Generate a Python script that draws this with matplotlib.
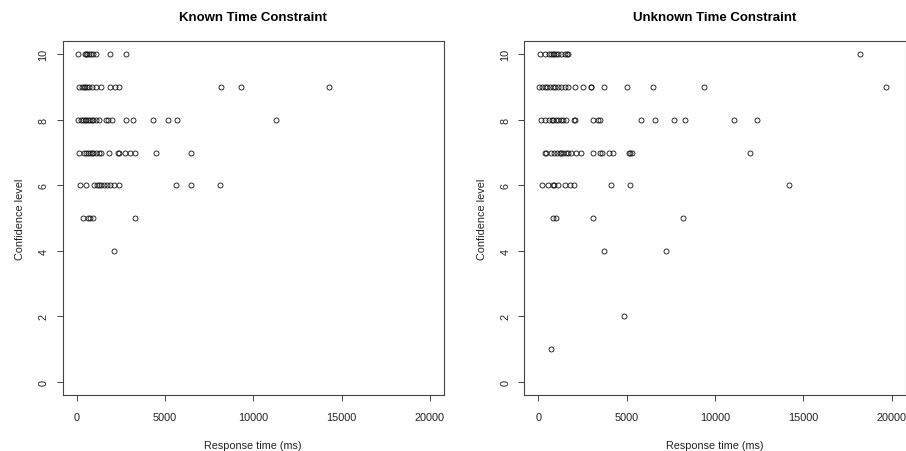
import numpy as np
import matplotlib.pyplot as plt

plt.rcParams['font.family'] = ['Liberation Sans', 'DejaVu Sans']

# Known time constraint: response times (ms) grouped by confidence level
known_conf10 = [100, 450, 550, 600, 700, 800, 900, 1100, 1900, 2800]
known_conf9 = [150, 300, 400, 500, 600, 700, 850, 1100, 1400, 1900, 2200, 2400, 8200, 9300, 14300]
known_conf8 = [100, 250, 350, 450, 550, 650, 750, 850, 950, 1100, 1250, 1650, 1800, 2000,
               2800, 3200, 4300, 5200, 5700, 11300]
known_conf7 = [150, 400, 550, 650, 750, 850, 950, 1100, 1250, 1400, 1850, 2350, 2400, 2750,
               3000, 3300, 4500, 6500]
known_conf6 = [200, 550, 1000, 1150, 1250, 1400, 1550, 1700, 1900, 2100, 2400, 5600, 6500, 8100]
known_conf5 = [350, 650, 750, 900, 3300]
known_conf4 = [2100]

# Unknown time constraint
unknown_conf10 = [100, 350, 600, 700, 800, 900, 1000, 1100, 1300, 1500, 1600, 1700, 18200]
unknown_conf9 = [50, 200, 350, 500, 650, 800, 950, 1100, 1300, 1500, 1700, 2050, 2500, 2950,
                 3000, 3700, 5000, 6500, 9400, 19700]
unknown_conf8 = [150, 400, 600, 750, 850, 1000, 1100, 1250, 1400, 1550, 2000, 2050, 3100, 3400,
                 3500, 5800, 6600, 7700, 8300, 11100, 12400]
unknown_conf7 = [350, 450, 700, 900, 1050, 1200, 1300, 1400, 1550, 1700, 1850, 2100, 2400, 3100,
                 3500, 3600, 4000, 4200, 5100, 5200, 5300, 12000]
unknown_conf6 = [200, 550, 800, 900, 1100, 1500, 1800, 2000, 4100, 5200, 14200]
unknown_conf5 = [800, 1000, 3100, 8200]
unknown_conf4 = [3700, 7200]
unknown_conf2 = [4850]
unknown_conf1 = [700]

known = {10: known_conf10, 9: known_conf9, 8: known_conf8, 7: known_conf7,
         6: known_conf6, 5: known_conf5, 4: known_conf4}
unknown = {10: unknown_conf10, 9: unknown_conf9, 8: unknown_conf8, 7: unknown_conf7,
           6: unknown_conf6, 5: unknown_conf5, 4: unknown_conf4, 2: unknown_conf2,
           1: unknown_conf1}

titles = ["Known Time Constraint", "Unknown Time Constraint"]
xticks = [0, 5000, 10000, 15000, 20000]
yticks = [0, 2, 4, 6, 8, 10]

fig = plt.figure(figsize=(9.06, 4.52), dpi=100)
w = 381.5 / 906
h = (396 - 42.3) / 452
b = 1 - 396 / 452
axes = [fig.add_axes([62.5 / 906, b, w, h]), fig.add_axes([524.3 / 906, b, w, h])]

tc = '#222222'
for ax, data, title in zip(axes, [known, unknown], titles):
    xs, ys = [], []
    for lvl, times in data.items():
        xs += times
        ys += [lvl] * len(times)
    ax.plot(xs, ys, 'o', mfc='none', mec='#111111', ms=3.6, mew=0.6)
    ax.set_xlim(-800, 20800)
    ax.set_ylim(-0.4, 10.4)
    ax.set_xticks(xticks)
    ax.set_yticks(yticks)
    ax.set_xticklabels([str(t) for t in xticks], fontsize=7.8, color=tc)
    ax.set_yticklabels([str(t) for t in yticks], fontsize=7.8, color=tc,
                       rotation=90, va='center')
    ax.tick_params(axis='x', direction='out', length=4, width=0.7, color='#444444', pad=8)
    ax.tick_params(axis='y', direction='out', length=4, width=0.7, color='#444444', pad=6)
    for s in ax.spines.values():
        s.set_color('#444444')
        s.set_linewidth(0.8)
    ax.set_xlabel("Response time (ms)", fontsize=7.8, color=tc, labelpad=13)
    ax.set_ylabel("Confidence level", fontsize=7.8, color=tc, labelpad=10)
    ax.set_title(title, fontsize=9.5, fontweight='bold', pad=15.5)

fig.savefig("out.png", dpi=100)
